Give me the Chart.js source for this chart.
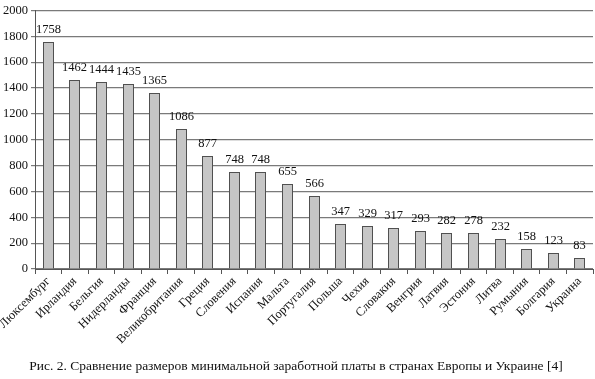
<!DOCTYPE html>
<html>
<head>
<meta charset="utf-8">
<script src="https://cdn.jsdelivr.net/npm/chart.js@4"></script>
<style>
  html, body { margin: 0; padding: 0; background: #fff; }
  #wrap { position: relative; width: 595px; height: 379px; }
  #caption {
    position: absolute; left: 0; top: 358px; width: 592px;
    text-align: center; font: 13.5px "Liberation Serif", "DejaVu Serif", serif; color: #111;
    white-space: nowrap;
  }
</style>
</head>
<body>
<div id="wrap">
  <canvas id="chart" width="595" height="379"></canvas>
  <div id="caption">Рис. 2. Сравнение размеров минимальной заработной платы в странах Европы и Украине [4]</div>
</div>
<script>
const countries = ['Люксембург', 'Ирландия', 'Бельгия', 'Нидерланды', 'Франция', 'Великобритания',
  'Греция', 'Словения', 'Испания', 'Мальта', 'Португалия', 'Польша', 'Чехия', 'Словакия',
  'Венгрия', 'Латвия', 'Эстония', 'Литва', 'Румыния', 'Болгария', 'Украина'];
const minWage = [1758, 1462, 1444, 1435, 1365, 1086, 877, 748, 748, 655, 566, 347, 329, 317,
  293, 282, 278, 232, 158, 123, 83];
const yTicks = [0, 200, 400, 600, 800, 1000, 1200, 1400, 1600, 1800, 2000];

const serif = '"Liberation Serif", "DejaVu Serif", serif';

// snap bar edges to whole pixels so every border looks the same
const snapBars = {
  id: 'snapBars',
  afterDatasetsUpdate(chart) {
    chart.getDatasetMeta(0).data.forEach(bar => {
      bar.width = 11;
      bar.x = Math.round(bar.x - 0.5) + 0.5;
      bar.y = Math.round(bar.y);
    });
  }
};

// value labels above each bar
const valueLabels = {
  id: 'valueLabels',
  afterDatasetsDraw(chart) {
    const ctx = chart.ctx;
    const meta = chart.getDatasetMeta(0);
    ctx.save();
    ctx.font = '12.5px ' + serif;
    ctx.fillStyle = '#111';
    ctx.textAlign = 'center';
    ctx.textBaseline = 'bottom';
    meta.data.forEach((bar, i) => {
      ctx.fillText(String(minWage[i]), bar.x, bar.y - 6);
    });
    ctx.restore();
  }
};

new Chart(document.getElementById('chart').getContext('2d'), {
  type: 'bar',
  data: {
    labels: countries,
    datasets: [{
      data: minWage,
      backgroundColor: '#c6c6c6',
      borderColor: '#505050',
      borderWidth: 1,
      inflateAmount: 0,
      barPercentage: 0.42,
      categoryPercentage: 1
    }]
  },
  options: {
    responsive: false,
    animation: false,
    layout: { padding: { top: 7, right: 2, left: 0, bottom: 0 } },
    plugins: {
      legend: { display: false },
      tooltip: { enabled: false },
      title: { display: false }
    },
    scales: {
      x: {
        offset: true,
        grid: { drawOnChartArea: false, drawTicks: true, tickLength: 5, offset: true, color: '#555' },
        border: { color: '#555', width: 1 },
        ticks: {
          color: '#111',
          font: { family: serif, size: 12.5 },
          maxRotation: 45,
          minRotation: 45,
          autoSkip: false,
          padding: 0
        },
        afterFit: axis => { axis.height = 110; }
      },
      y: {
        min: 0,
        max: 2000,
        afterBuildTicks: axis => { axis.ticks = yTicks.map(v => ({ value: v })); },
        grid: { color: '#7a7a7a', lineWidth: 1.2, drawTicks: true, tickLength: 4 },
        border: { color: '#555', width: 1 },
        ticks: {
          color: '#111',
          font: { family: serif, size: 12.5 },
          padding: 3,
          callback: v => String(v)
        },
        afterFit: axis => { axis.width = 35; }
      }
    }
  },
  plugins: [snapBars, valueLabels]
});
</script>
</body>
</html>
